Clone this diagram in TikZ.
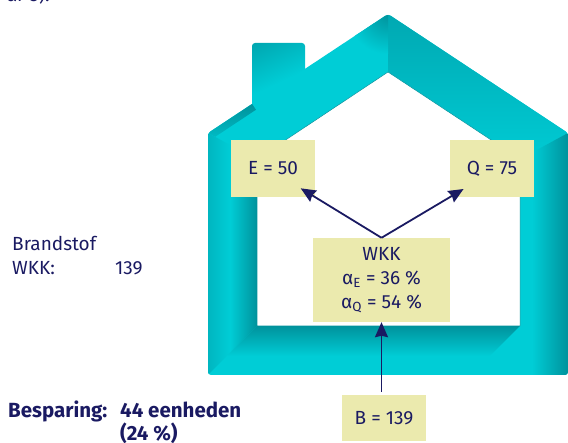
\documentclass[tikz,border=0pt]{standalone}
\usepackage{fontspec}
\setmainfont{Fira Sans}
\usetikzlibrary{positioning,calc,arrows.meta}
\definecolor{tealbright}{RGB}{0,205,214}
\definecolor{tealmid}{RGB}{0,182,192}
\definecolor{tealdark}{RGB}{0,146,156}
\definecolor{boxyellow}{RGB}{235,234,174}
\definecolor{inkblue}{RGB}{26,26,98}
\pgfdeclareverticalshading{roofband}{100bp}{color(0bp)=(tealbright); color(30bp)=(tealbright); color(100bp)=(tealdark)}
\pgfdeclareverticalshading{chimneyband}{100bp}{color(0bp)=(tealbright); color(50bp)=(tealbright); color(100bp)=(tealdark)}

\begin{document}
\begin{tikzpicture}[
    x=1pt, y=1pt,
    valbox/.style={fill=boxyellow, inner sep=0pt, align=center, font=\fontsize{19}{24}\selectfont, text=inkblue},
    arr/.style={-{Stealth[length=15pt,width=13pt,inset=1.5pt]}, line width=1.8pt, inkblue},
    note/.style={font=\fontsize{19}{24}\selectfont, text=inkblue, anchor=base west, inner sep=0pt},
    boldnote/.style={note, font=\fontsize{20.5}{24}\selectfont\bfseries}
]
    \useasboundingbox (0,0) rectangle (568,443);

    % Chimney
    \shade[rounded corners=3pt, shading=chimneyband, shading angle=25]
        (252,320) -- (252,400) -- (305,400) -- (305,360) -- cycle;

    % House body
    \begin{scope}
        \clip[rounded corners=3pt] (388,429) -- (568,310) -- (568,68) -- (208,68) -- (208,310) -- cycle;
        \fill[tealbright] (200,60) rectangle (570,435);
        % Right roof
        \begin{scope}
            \clip (388,429) -- (568,310) -- (520,284) -- (388,371) -- cycle;
            \shade[shift={(388,429)}, rotate=-33.5, shading=roofband] (-10,-48.4) rectangle (240,0);
        \end{scope}
        % Left roof, dark at the ridge and at the eave
        \begin{scope}
            \clip (388,429) -- (208,310) -- (257,284) -- (388,371) -- cycle;
            \shade[inner color=tealdark, outer color=tealbright] (388,429) circle (40);
            \shade[shift={(388,429)}, rotate=33.5, top color=tealdark, bottom color=tealbright] (-240,-7) rectangle (-163,0);
        \end{scope}
        % Left wall
        \shade[left color=tealbright, right color=tealdark] (230,298) -- (257,284) -- (257,117) -- (230,90) -- cycle;
        \shade[left color=tealmid, right color=tealbright] (208,310) -- (230,298) -- (230,90) -- (208,68) -- cycle;
        % Floor shadow
        \shade[top color=tealdark, bottom color=tealbright] (257,117) -- (520,117) -- (490,87) -- (227,87) -- cycle;
        % Right wall
        \shade[left color=tealbright, right color=tealdark] (532,290.5) -- (568,310) -- (568,68) -- (532,68) -- cycle;
        % Room
        \fill[white, draw=tealdark, line width=0.5pt] (257,284) -- (388,371) -- (520,284) -- (520,117) -- (257,117) -- cycle;
    \end{scope}

    % Value boxes
    \node[valbox, minimum width=84pt, minimum height=57pt] (eBox) at (273,274.5) {E = 50};
    \node[valbox, minimum width=84pt, minimum height=57pt] (qBox) at (492,274.5) {Q = 75};
    \node[valbox, minimum width=137pt, minimum height=84pt] (wkkBox) at (381.5,163)
        {WKK\\α\textsubscript{E} = 36 \%\\α\textsubscript{Q} = 54 \%};
    \node[valbox, minimum width=84pt, minimum height=46pt] (bBox) at (384,25) {B = 139};

    % Arrows
    \draw[arr, shorten >=-17pt] (wkkBox.north) -- (eBox.south east);
    \draw[arr, shorten >=-16pt] (wkkBox.north) -- (qBox.south west);
    \draw[arr, shorten <=3pt] (bBox.north -| wkkBox.south) -- (wkkBox.south);

    % Side texts
    \node[note, anchor=base east] (topText) at (50,441) {ar 3).};
    \node[note] (fuelText) at (12,192) {Brandstof};
    \node[note] (fuelWkk) at (12,168) {WKK:};
    \node[note] (fuelVal) at (115,168) {139};
    \node[boldnote] (saveText) at (8,25) {Besparing:};
    \node[boldnote] (saveVal) at (120,25) {44 eenheden};
    \node[boldnote] (savePct) at (120,2) {(24 \%)};
\end{tikzpicture}
\end{document}
